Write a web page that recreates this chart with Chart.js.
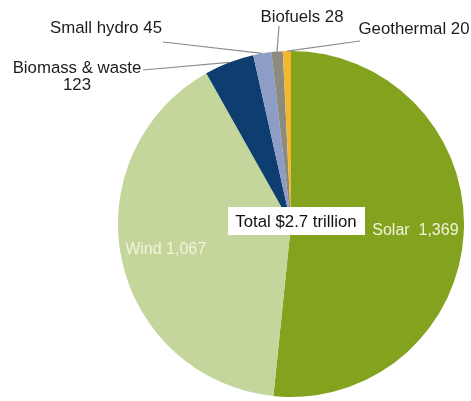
<!DOCTYPE html>
<html>
<head>
<meta charset="utf-8">
<script src="https://cdn.jsdelivr.net/npm/chart.js@4.4.1/dist/chart.umd.min.js"></script>
<style>
  html, body { margin: 0; padding: 0; background: #ffffff; }
  #wrap { width: 471px; height: 401px; position: relative; }
</style>
</head>
<body>
<div id="wrap"><canvas id="pie"></canvas></div>
<script>
// Cumulative renewable investment by technology, $bn
const categories = ['Solar', 'Wind', 'Biomass & waste', 'Small hydro', 'Biofuels', 'Geothermal'];
const investment = [1369, 1067, 123, 45, 28, 20];
const sliceColors = ['#83a31f', '#c4d69b', '#0e3d70', '#8d9dc6', '#8d8b7e', '#f2b830'];
const totalText = 'Total $2.7 trillion';

const fmt = v => v.toLocaleString('en-US');
const FONT = "'Liberation Sans', Arial, sans-serif";

// Label text for each slice (Biomass label wraps to two lines)
function sliceLabel(i) {
  const name = categories[i], val = fmt(investment[i]);
  if (i === 0) return [name + '  ' + val];
  if (i === 2) return [name, val];
  return [name + ' ' + val];
}

const calloutPlugin = {
  id: 'callouts',
  afterDatasetsDraw(chart, args, opts) {
    const ctx = chart.ctx;
    const meta = chart.getDatasetMeta(0);
    let cx = 0, cy = 0;
    meta.data.forEach((arc, i) => {
      const spec = opts.items[i];
      const p = arc.getProps(['x', 'y', 'startAngle', 'endAngle', 'outerRadius'], true);
      cx = p.x; cy = p.y;
      const mid = (p.startAngle + p.endAngle) / 2;
      const lines = sliceLabel(i);
      ctx.save();
      ctx.textAlign = 'center';
      ctx.textBaseline = 'middle';
      if (spec.inside) {
        const r = p.outerRadius * spec.r;
        const tx = p.x + Math.cos(mid) * r;
        const ty = p.y + Math.sin(mid) * r;
        ctx.font = '16px ' + FONT;
        ctx.fillStyle = '#f3f3dc';
        ctx.fillText(lines[0], tx, ty);
      } else {
        const ex = p.x + Math.cos(mid) * p.outerRadius;
        const ey = p.y + Math.sin(mid) * p.outerRadius;
        ctx.strokeStyle = '#8c8c8c';
        ctx.lineWidth = 1.2;
        ctx.beginPath();
        ctx.moveTo(spec.lx, spec.ly);
        ctx.lineTo(ex, ey);
        ctx.stroke();
        ctx.font = '16.8px ' + FONT;
        ctx.fillStyle = '#1c1c1c';
        lines.forEach((t, k) => ctx.fillText(t, spec.tx, spec.ty + k * 17));
      }
      ctx.restore();
    });

    // Total box in the middle of the pie
    ctx.save();
    const bx = cx + 5, by = cy - 3;
    ctx.fillStyle = '#ffffff';
    ctx.fillRect(bx - 68, by - 14, 137, 28);
    ctx.font = '16.8px ' + FONT;
    ctx.fillStyle = '#111111';
    ctx.textAlign = 'center';
    ctx.textBaseline = 'middle';
    ctx.fillText(totalText, bx, by + 1);
    ctx.restore();
  }
};

new Chart(document.getElementById('pie'), {
  type: 'pie',
  data: {
    labels: categories,
    datasets: [{
      data: investment,
      backgroundColor: sliceColors,
      borderWidth: 0
    }]
  },
  options: {
    responsive: true,
    maintainAspectRatio: false,
    animation: false,
    layout: { padding: { left: 118, right: 7, top: 51, bottom: 4 } },
    plugins: {
      legend: { display: false },
      tooltip: { enabled: false },
      callouts: {
        items: [
          { inside: true, r: 0.72 },
          { inside: true, r: 0.74 },
          { tx: 77, ty: 68, lx: 143, ly: 70 },
          { tx: 106, ty: 28, lx: 163, ly: 42 },
          { tx: 302, ty: 17, lx: 279, ly: 26 },
          { tx: 414, ty: 29, lx: 360, ly: 41 }
        ]
      }
    }
  },
  plugins: [calloutPlugin]
});
</script>
</body>
</html>
